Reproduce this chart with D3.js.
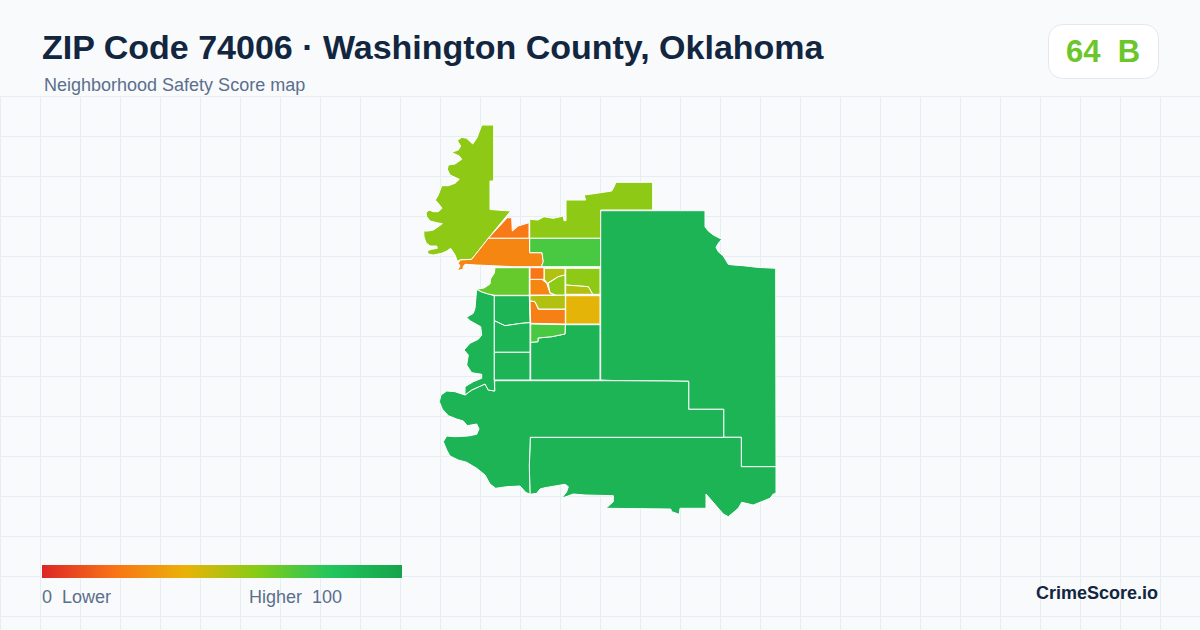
<!DOCTYPE html>
<html><head><meta charset="utf-8">
<script src="https://cdn.jsdelivr.net/npm/d3@7/dist/d3.min.js"></script>
<style>html,body{margin:0;padding:0;background:#f8fafc}svg{display:block}text{font-family:"Liberation Sans",Arial,sans-serif}</style>
</head><body><svg id="c" width="1200" height="630"></svg>
<script>
const titleText="ZIP Code 74006 · Washington County, Oklahoma";
const subtitleText="Neighborhood Safety Score map";
const overallScore=64, overallGrade="B";
const brandText="CrimeScore.io";
const legendStops=[0,20,40,60,80,100];
const legendColors=["#dc2626","#f97316","#eab308","#84cc16","#22c55e","#16a34a"];
const tractScores=[58,22,26,58,72,90,90,90,90,90,90,90,90,72,41,24,51,26,21,51,58,58,51,66];
const tractRings=[
[[481.7,125],[493.7,125],[493.7,181],[490,181],[490,209.5],[510.7,211],[488.3,238.3],[471.7,259.3],[459.3,260],[457.7,261.7],[455,255],[450.7,248.3],[446.7,251],[441.7,253.3],[433.3,255],[428.3,254],[427.3,250.7],[431.7,249.3],[437.3,248.3],[436.7,246],[430,246],[426,242.7],[424,236.7],[423.7,231],[428.3,231],[433.3,230],[438.3,226.7],[442.3,223.7],[436.7,222.7],[430,221],[426.7,216.7],[426,212.7],[429,210],[433.3,211.7],[438.3,211.7],[442,208.3],[438.3,203.3],[435.3,200],[438.3,195],[441.7,185.7],[448.3,185.7],[455,183.3],[459.3,179.3],[455,177.3],[450,175],[447.3,169.3],[448.3,165],[455,164],[461.7,159.3],[459.3,156],[453.3,153.3],[452.3,152],[458.3,150],[460.7,146],[457.3,140.7],[461.7,137.3],[466.7,138.3],[472.7,144],[476.7,138.3],[479.3,131.7]],
[[507.3,217.7],[511.7,217.7],[512.3,231],[518.3,226],[529,222.7],[529,238.3],[488.3,238.3]],
[[488.3,238.3],[529.7,238.3],[529.7,252.7],[542,252.7],[543.3,261.7],[541.3,266.7],[513.3,266.7],[476.7,265],[465,264.3],[463,267],[463.3,269],[457.3,270.7],[460,266],[458.3,263.3],[460,260],[471.7,259.3]],
[[529.7,219.3],[538,220],[544,216.7],[553.3,218.3],[563.3,216],[564,220.7],[566,220.7],[566,200],[585.7,200],[584,195],[596.7,193.3],[611.7,191],[613.3,188.3],[616,182.3],[652.7,182.3],[652.7,210],[600.7,210],[600.7,238.3],[529.7,238.3]],
[[529.7,238.3],[600.7,238.3],[600.7,266.7],[541.3,266.7],[543.3,261.7],[542,252.7],[529.7,252.7]],
[[600.7,210.7],[705,210.7],[705,226.7],[708.3,231],[713.3,235],[721.7,239.3],[718.3,243.3],[716,247.3],[718.3,251.7],[723.3,256],[728.3,264.3],[733.3,265],[743.3,265.7],[756.7,267.3],[775.7,268.3],[776,466.7],[741.3,466.7],[741.3,437.3],[723.7,437.3],[723.7,409.3],[688.7,409.3],[688.7,381.3],[666.7,381],[618.3,380.7],[600.7,380]],
[[530.3,437.3],[741.3,437.3],[741.3,466.7],[776,466.7],[776,493.3],[773.3,494],[770,498.3],[753.3,505],[741.7,502.3],[738.3,508.3],[728.3,516.7],[723.3,514],[706,494],[706,508.3],[680,508.3],[679.3,514.3],[671.7,511.7],[670.7,509],[606,508.3],[613.3,501.7],[613.3,495.7],[585,495],[573.3,494],[561.7,498.3],[566.7,491.7],[568.3,486.7],[565,484.3],[545,487.7],[540,489],[536.7,493.3],[530,494.3],[529.3,466]],
[[494.7,380.7],[618.3,380.7],[666.7,381],[688.7,381.3],[688.7,409.3],[723.7,409.3],[723.7,437.3],[530.3,437.3],[529.3,466],[530,494.3],[525.7,492.3],[520,486],[506.7,486.7],[495.7,488.3],[490,484],[485,475],[476.7,468.3],[466.7,462.3],[458.3,460],[450,456],[446.7,450],[443.3,441.7],[446.7,436],[455,436.7],[468.3,436],[476.7,434.3],[479,429],[476.7,424],[467.3,425.7],[463.3,421],[456.7,419],[448.3,415.7],[442.3,409],[439.3,401.7],[441,395],[446.7,391],[455,391.7],[465,395],[471.7,390],[485,384],[488.3,390],[494.7,391]],
[[476.7,289.3],[482,292],[488.3,294],[494.3,295.7],[494.3,380],[494.7,391],[488.3,390],[485,384],[471.7,390],[465,395],[465,386.7],[473.3,381.7],[481.7,378.3],[481.7,374.3],[471.7,372.7],[466.7,365],[468.3,355],[464,350],[470,343.3],[478.3,339.3],[481.7,335],[480.7,326.7],[470,320.7],[466.7,317.3],[473.3,313.3],[475,308.3],[476,296.7]],
[[494.3,295.7],[529.3,295.7],[530,322.7],[521.7,323.3],[505,325.7],[494.3,320.7]],
[[494.3,320.7],[505,325.7],[521.7,323.3],[530,322.7],[530,352.3],[494.3,352.3]],
[[494.3,352.3],[530,352.3],[530,380],[494.3,380]],
[[530.7,342.3],[538,341.7],[538,338],[551.7,336.7],[565,334],[565.3,324.7],[600,324.7],[600,380],[530.7,380]],
[[530.7,324],[565.3,324.7],[565,334],[551.7,336.7],[538,338],[538,341.7],[530.7,342.3]],
[[565.7,295.7],[600,295.7],[600,324],[565.7,324]],
[[530,301],[535,301.7],[538.3,309.3],[565.3,309.3],[565.3,324],[530.7,323.3]],
[[530,295.7],[565.3,295],[565.3,309],[538.7,309],[535,301.7],[530,300.7]],
[[530,279.3],[541.7,279.3],[546.7,283.3],[550,293.3],[555.7,295],[530,295]],
[[530,267.7],[544,267.7],[544,279.3],[530,279.3]],
[[544.3,268.3],[565,268.3],[565,275],[558.3,276.7],[547.3,283.3],[544.3,279.3]],
[[565,275],[565,295],[555.7,295],[550,292.7],[548.3,283.3],[558.3,276.7]],
[[565.7,268.3],[600,268.3],[600,294.3],[592.7,294.3],[588.3,286.7],[565.7,285]],
[[565.7,285],[588.3,286.7],[592.7,294.3],[565.7,294.3]],
[[495,267.7],[529.3,267.7],[529.3,295.3],[495,295.3],[488.3,294],[482,292],[476.7,289.3],[484,288],[490,284],[490.5,279],[494.3,273]]
];

const svg=d3.select("#c");
const color=d3.scaleLinear().domain(legendStops).range(legendColors).interpolate(d3.interpolateRgb);

const gridX=d3.range(0,1200,40), gridY=d3.range(97,630,40);
const grid=svg.append("g").attr("stroke","#e6eef2").attr("stroke-width",1);
grid.selectAll("line.v").data(gridX).join("line").attr("class","v").attr("x1",d=>d+.5).attr("x2",d=>d+.5).attr("y1",96).attr("y2",630);
grid.selectAll("line.h").data(gridY).join("line").attr("class","h").attr("x1",0).attr("x2",1200).attr("y1",d=>d-.5).attr("y2",d=>d-.5);

const path=d3.geoPath(d3.geoIdentity());
const features=tractRings.map((r,i)=>({type:"Feature",properties:{score:tractScores[i]},geometry:{type:"Polygon",coordinates:[r.concat([r[0]])]}}));
svg.append("g").selectAll("path").data(features).join("path").attr("d",path)
 .attr("fill",d=>color(d.properties.score)).attr("stroke","#ffffff").attr("stroke-width",1).attr("stroke-linejoin","round");

svg.append("text").attr("x",42).attr("y",58.5).attr("font-size",34).attr("font-weight",700).attr("fill","#12263f").text(titleText);
svg.append("text").attr("x",44).attr("y",91).attr("font-size",18).attr("fill","#5b6f8c").text(subtitleText);
svg.append("rect").attr("x",1048.5).attr("y",24.5).attr("width",110).attr("height",54).attr("rx",14).attr("fill","#ffffff").attr("stroke","#e2e8f0");
svg.append("text").attr("x",1103).attr("y",62).attr("text-anchor","middle").attr("font-size",31).attr("font-weight",700).attr("fill","#6bc52b").style("white-space","pre").text(overallScore+"  "+overallGrade);

const defs=svg.append("defs");
const lg=defs.append("linearGradient").attr("id","lg");
const legendX=d3.scaleLinear().domain([0,100]).range([42,402]);
lg.selectAll("stop").data(legendStops).join("stop").attr("offset",d=>d+"%").attr("stop-color",d=>color(d));
svg.append("rect").attr("x",legendX(0)).attr("y",565).attr("width",legendX(100)-legendX(0)).attr("height",13).attr("fill","url(#lg)");
svg.append("text").attr("x",42).attr("y",603).attr("font-size",18).attr("fill","#5b6f8c").style("white-space","pre").text("0  Lower");
svg.append("text").attr("x",249).attr("y",603).attr("font-size",18).attr("fill","#5b6f8c").style("white-space","pre").text("Higher  100");
svg.append("text").attr("x",1158).attr("y",599).attr("text-anchor","end").attr("font-size",18).attr("font-weight",700).attr("fill","#12263f").text(brandText);
</script></body></html>
